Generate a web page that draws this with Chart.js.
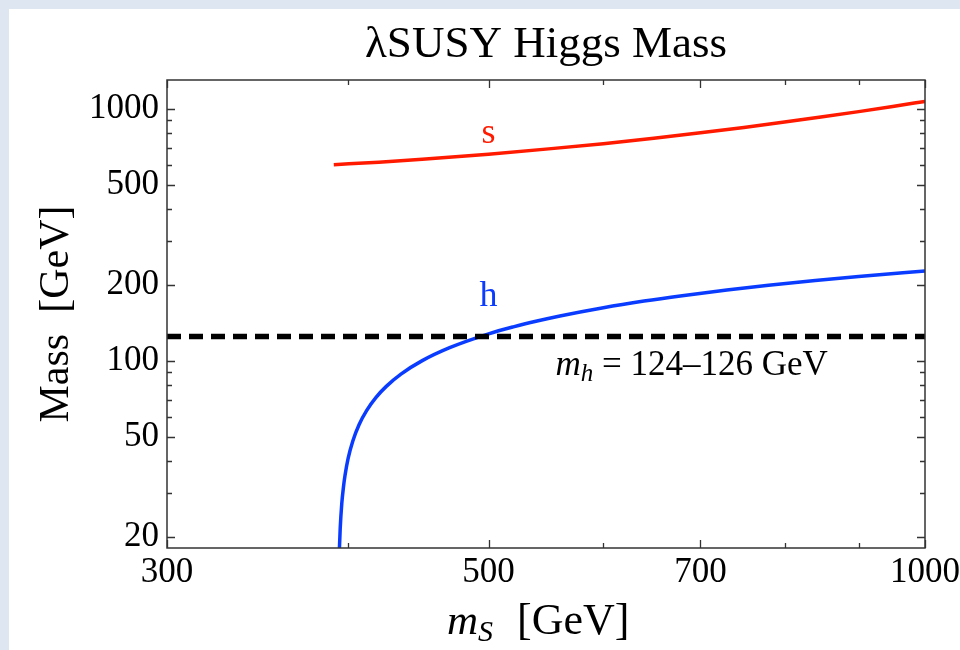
<!DOCTYPE html>
<html>
<head>
<meta charset="utf-8">
<title>λSUSY Higgs Mass</title>
<script src="https://cdn.jsdelivr.net/npm/chart.js@4.4.1/dist/chart.umd.min.js"></script>
<style>
  html, body { margin: 0; padding: 0; }
  body {
    width: 960px; height: 650px; overflow: hidden; position: relative;
    background: #dde6f1;
  }
  #panel { position: absolute; left: 9px; top: 9px; right: 0; bottom: 0; background: #ffffff; }
  #c { position: absolute; left: 0; top: 0; }
</style>
</head>
<body>
<div id="panel"></div>
<canvas id="c" width="960" height="650"></canvas>
<script>
// Singlet-like state s: (m_S, mass) in GeV
const sMassS  = [391, 420, 450, 500, 550, 600, 650, 700, 750, 800, 850, 900, 950, 1000];
const sMass   = [600, 614, 630, 660, 693, 727, 764, 803, 843, 885, 929, 974, 1021, 1069];

// Higgs-like state h: (m_S, mass) in GeV
const hMassS  = [394.5, 395, 396, 397, 398, 400, 403, 407, 412, 418, 425, 435, 450, 470, 500, 520, 540, 560, 600, 640, 680, 730, 780, 840, 900, 1000];
const hMass   = [17.9, 21.6, 27.2, 31.4, 35.0, 41.0, 48.1, 55.8, 63.6, 71.5, 79.2, 88.6, 100.2, 112.8, 128.0, 136.4, 143.9, 150.7, 162.5, 172.6, 181.3, 191.0, 199.3, 208.1, 216.0, 227.1];

// Observed Higgs mass band
const mhBandMassS = [300, 1000];
const mhBand      = [125, 125];

// Axis ranges and ticks
const xRange = [300, 1000];
const yRange = [18.1, 1300];
const xMajorTicks = [300, 500, 700, 1000];
const xMinorTicks = [400, 600, 800, 900];
const yMajorTicks = [20, 50, 100, 200, 500, 1000];
const yMinorTicks = [30, 40, 60, 70, 80, 90, 300, 400, 600, 700, 800, 900];

// Text
const titleText = 'λSUSY Higgs Mass';
const yTitleText = 'Mass  [GeV]';
const sLabel = { text: 's', x: 500, y: 804 };
const hLabel = { text: 'h', x: 500, y: 181 };
const bandLabel = { x: 556, text: ' = 124–126 GeV' };

const SERIF = '"Liberation Serif", "Times New Roman", serif';
const zip = (xs, ys) => xs.map((x, i) => ({ x, y: ys[i] }));

function tickList(major, minor) {
  return [...major, ...minor].sort((a, b) => a - b)
    .map(v => ({ value: v, major: major.includes(v) }));
}

// Frame with inward tick marks on all four sides, plus annotations
const framePlugin = {
  id: 'framePlugin',
  afterDatasetsDraw(chart) {
    const { ctx, chartArea: a, scales: { x, y } } = chart;
    ctx.save();
    ctx.strokeStyle = '#333333';
    ctx.lineWidth = 1.5;
    ctx.strokeRect(a.left, a.top, a.right - a.left, a.bottom - a.top);
    ctx.lineWidth = 1.3;
    ctx.beginPath();
    tickList(xMajorTicks, xMinorTicks).forEach(t => {
      const px = Math.round(x.getPixelForValue(t.value)) + 0.5;
      const len = t.major ? 8 : 5;
      ctx.moveTo(px, a.bottom); ctx.lineTo(px, a.bottom - len);
      ctx.moveTo(px, a.top); ctx.lineTo(px, a.top + len);
    });
    tickList(yMajorTicks, yMinorTicks).forEach(t => {
      const py = Math.round(y.getPixelForValue(t.value)) + 0.5;
      const len = t.major ? 8 : 5;
      ctx.moveTo(a.left, py); ctx.lineTo(a.left + len, py);
      ctx.moveTo(a.right, py); ctx.lineTo(a.right - len, py);
    });
    ctx.stroke();
    ctx.restore();
  },
  afterDraw(chart) {
    const { ctx, chartArea: a, scales: { x, y } } = chart;
    ctx.save();
    ctx.textBaseline = 'alphabetic';

    // Title
    ctx.fillStyle = '#000';
    ctx.font = `45px ${SERIF}`;
    ctx.textAlign = 'center';
    ctx.fillText(titleText, (a.left + a.right) / 2, 57);

    // Curve labels
    ctx.font = `36px ${SERIF}`;
    ctx.fillStyle = '#ff1a00';
    ctx.fillText(sLabel.text, x.getPixelForValue(sLabel.x), y.getPixelForValue(sLabel.y) + 10);
    ctx.fillStyle = '#0a3cff';
    ctx.fillText(hLabel.text, x.getPixelForValue(hLabel.x), y.getPixelForValue(hLabel.y) + 10);

    // Band label: m_h = 124–126 GeV
    ctx.fillStyle = '#000';
    ctx.textAlign = 'left';
    let bx = x.getPixelForValue(bandLabel.x);
    const by = 375;
    ctx.font = `italic 35px ${SERIF}`;
    ctx.fillText('m', bx, by);
    bx += ctx.measureText('m').width;
    ctx.font = `italic 25px ${SERIF}`;
    ctx.fillText('h', bx, by + 6);
    bx += ctx.measureText('h').width;
    ctx.font = `35px ${SERIF}`;
    ctx.fillText(bandLabel.text, bx, by);

    // x-axis title: m_S  [GeV]
    let tx = 447;
    const ty = 634;
    ctx.font = `italic 43px ${SERIF}`;
    ctx.fillText('m', tx, ty);
    tx += ctx.measureText('m').width;
    ctx.font = `italic 30px ${SERIF}`;
    ctx.fillText('S', tx, ty + 7);
    ctx.font = `44px ${SERIF}`;
    ctx.fillText('[GeV]', 517, ty);

    // y-axis title
    ctx.translate(68, (a.top + a.bottom) / 2);
    ctx.rotate(-Math.PI / 2);
    ctx.textAlign = 'center';
    ctx.font = `42px ${SERIF}`;
    ctx.fillText(yTitleText, 0, 0);
    ctx.restore();
  }
};

new Chart(document.getElementById('c'), {
  type: 'line',
  data: {
    datasets: [
      {
        label: 'm_h band',
        data: zip(mhBandMassS, mhBand),
        borderColor: '#000000',
        borderWidth: 5.5,
        borderDash: [14, 8],
        borderCapStyle: 'butt',
        pointRadius: 0,
        tension: 0
      },
      {
        label: 'h',
        data: zip(hMassS, hMass),
        borderColor: '#0a3cff',
        borderWidth: 3.5,
        pointRadius: 0,
        cubicInterpolationMode: 'monotone'
      },
      {
        label: 's',
        data: zip(sMassS, sMass),
        borderColor: '#ff1a00',
        borderWidth: 3.5,
        pointRadius: 0,
        cubicInterpolationMode: 'monotone'
      }
    ]
  },
  options: {
    responsive: false,
    animation: false,
    devicePixelRatio: 1,
    layout: { padding: { left: 0, top: 80, right: 35, bottom: 0 } },
    plugins: { legend: { display: false }, tooltip: { enabled: false }, title: { display: false } },
    scales: {
      x: {
        type: 'logarithmic',
        min: xRange[0], max: xRange[1],
        grid: { display: false, drawTicks: false },
        border: { display: false },
        afterBuildTicks: s => { s.ticks = tickList(xMajorTicks, xMinorTicks); },
        afterFit: s => { s.height = 102; s.paddingLeft = 0; s.paddingRight = 0; },
        ticks: {
          autoSkip: false, maxRotation: 0, minRotation: 0, padding: 4,
          color: '#000',
          font: { family: SERIF, size: 35 },
          callback: v => xMajorTicks.includes(v) ? String(v) : ''
        }
      },
      y: {
        type: 'logarithmic',
        min: yRange[0], max: yRange[1],
        grid: { display: false, drawTicks: false },
        border: { display: false },
        afterBuildTicks: s => { s.ticks = tickList(yMajorTicks, yMinorTicks); },
        afterFit: s => { s.width = 167; s.paddingTop = 0; s.paddingBottom = 0; },
        ticks: {
          autoSkip: false, padding: 8,
          color: '#000',
          font: { family: SERIF, size: 35 },
          callback: v => yMajorTicks.includes(v) ? String(v) : ''
        }
      }
    }
  },
  plugins: [framePlugin]
});
</script>
</body>
</html>
